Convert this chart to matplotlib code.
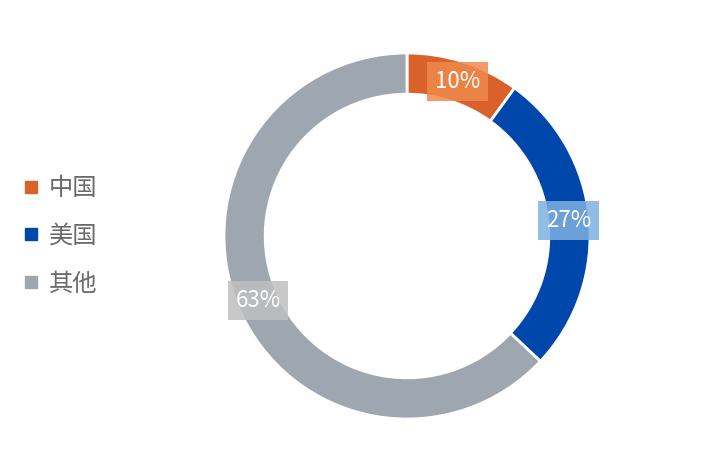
import matplotlib
matplotlib.use("Agg")
import matplotlib.pyplot as plt
from matplotlib.lines import Line2D
import numpy as np

plt.rcParams['font.family'] = ['Noto Sans CJK SC', 'DejaVu Sans']

# data
categories = ['中国', '美国', '其他']
shares = [10, 27, 63]
colors = ['#D9622B', '#0047AB', '#9EA7B0']
box_colors = ['#F08A4B', '#7FB0E2', '#BFBFBF']

fig = plt.figure(figsize=(7.09, 4.72), dpi=100)
ax = fig.add_axes([224 / 709, 53 / 472, 366 / 709, 366 / 472])

wedges, _ = ax.pie(shares, colors=colors, startangle=90, counterclock=False,
                   radius=1.0, wedgeprops=dict(width=0.225, edgecolor='white', linewidth=2))
ax.set_xlim(-1, 1)
ax.set_ylim(-1, 1)
ax.axis('off')

# percentage labels in boxes at ring middle
total = sum(shares)
start = 90.0
for val, bc in zip(shares, box_colors):
    span = 360.0 * val / total
    mid = np.deg2rad(start - span / 2)
    start -= span
    r = 0.887
    ax.text(r * np.cos(mid), r * np.sin(mid), f"{val}%", ha='center', va='center',
            color='white', fontsize=16, family=['Noto Sans CJK SC', 'DejaVu Sans'],
            bbox=dict(boxstyle='square,pad=0.35', facecolor=bc, edgecolor='none', alpha=0.85))

# legend
handles = [Line2D([0], [0], marker='s', linestyle='none', markersize=8,
                  markerfacecolor=c, markeredgecolor=c) for c in colors]
leg = fig.legend(handles, categories, loc='center left', bbox_to_anchor=(0.005, 0.5),
                 frameon=False, fontsize=17.5, handlelength=0.5, handletextpad=0.45,
                 labelspacing=0.9, labelcolor='#6b6b6b')

fig.savefig('out.png', dpi=100)
